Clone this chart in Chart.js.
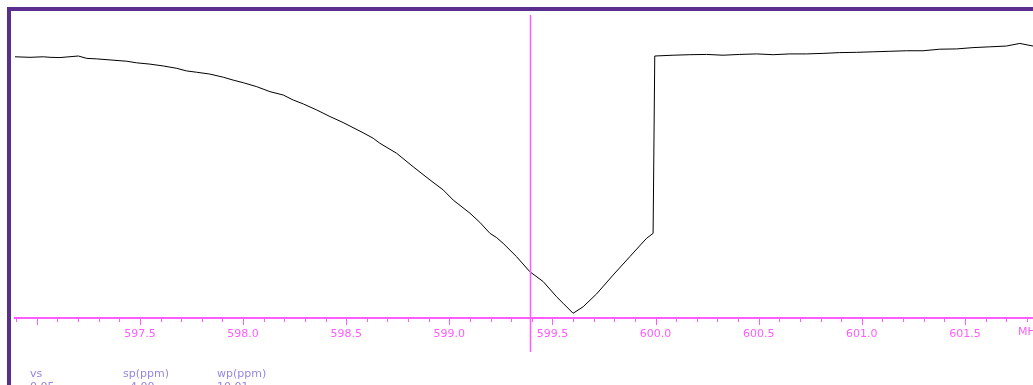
<!DOCTYPE html>
<html>
<head>
<meta charset="utf-8">
<script src="https://cdn.jsdelivr.net/npm/chart.js@4"></script>
<style>
  html, body { margin: 0; padding: 0; background: #fff; overflow: hidden; }
  #wrap { position: relative; width: 1033px; height: 385px; }
  .par { position: absolute; font: 11px "DejaVu Sans", sans-serif; color: #9488e0; white-space: nowrap; }
</style>
</head>
<body>
<div id="wrap">
  <canvas id="spec"></canvas>
  <div class="par" style="left:30px;top:367px">vs</div>
  <div class="par" style="left:123px;top:367px">sp(ppm)</div>
  <div class="par" style="left:217px;top:367px">wp(ppm)</div>
  <div class="par" style="left:30px;top:380px">0.05</div>
  <div class="par" style="left:130px;top:380px">4.00</div>
  <div class="par" style="left:217px;top:380px">10.01</div>
</div>
<script>
(function () {
    "use strict";

    // frequency (MHz) and intensity (arb. units)
    var mhz = [
        596.894, 596.967, 597.031, 597.064, 597.112, 597.201, 597.242, 597.290, 597.355, 597.436,
        597.484, 597.548, 597.613, 597.678, 597.726, 597.775, 597.839, 597.904, 597.952, 598.001,
        598.066, 598.130, 598.195, 598.243, 598.292, 598.357, 598.421, 598.485, 598.582, 598.631,
        598.663, 598.744, 598.825, 598.906, 598.970, 599.019, 599.100, 599.148, 599.197, 599.229,
        599.261, 599.326, 599.390, 599.455, 599.520, 599.552, 599.600, 599.649, 599.714, 599.794,
        599.875, 599.956, 599.988, 599.996, 600.085, 600.166, 600.247, 600.327, 600.408, 600.489,
        600.570, 600.651, 600.732, 600.812, 600.893, 600.974, 601.055, 601.136, 601.216, 601.297,
        601.378, 601.459, 601.539, 601.620, 601.701, 601.766, 601.830
    ];
    var intensity = [
        99.7, 99.5, 99.7, 99.5, 99.4, 100.0, 99.1, 98.9, 98.5, 98.0,
        97.4, 96.9, 96.2, 95.3, 94.3, 93.8, 93.1, 91.9, 90.8, 89.8,
        88.3, 86.4, 85.1, 83.2, 81.7, 79.4, 76.9, 74.6, 70.7, 68.6,
        66.7, 62.9, 57.7, 52.7, 48.9, 45.0, 40.0, 36.5, 32.3, 30.7,
        28.5, 23.4, 17.7, 13.9, 8.1, 5.6, 1.8, 4.3, 9.2, 16.4,
        23.4, 30.4, 32.3, 100.0, 100.3, 100.5, 100.6, 100.3, 100.6, 100.8,
        100.5, 100.8, 100.8, 101.0, 101.3, 101.4, 101.6, 101.8, 102.0, 102.0,
        102.6, 102.7, 103.2, 103.5, 103.8, 104.8, 103.8
    ];
    var tickLabels = ['597.5', '598.0', '598.5', '599.0', '599.5', '600.0', '600.5', '601.0', '601.5'];
    var unitLabel = 'MHz';
    var cursorMHz = 599.39;

    var MAGENTA = '#ff5cff';

    var points = mhz.map(function (v, i) { return { x: v, y: intensity[i] }; });

    var specPlugin = {
        id: 'spec',
        beforeDraw: function (chart) {
            var ctx = chart.ctx;
            ctx.save();
            ctx.fillStyle = '#5b2d8e';
            ctx.fillRect(7, 7, chart.width - 7, 4);
            ctx.fillRect(7, 7, 4, chart.height - 7);
            ctx.restore();
        },
        afterDraw: function (chart) {
            var ctx = chart.ctx;
            var xs = chart.scales.x;
            var area = chart.chartArea;
            ctx.save();
            // tick marks: long every 0.5, short every 0.1
            ctx.strokeStyle = MAGENTA;
            ctx.lineWidth = 1;
            xs.ticks.forEach(function (t) {
                var tenths = Math.round(t.value * 10);
                if (Math.abs(t.value * 10 - tenths) > 0.01) return;
                var px = Math.round(xs.getPixelForValue(t.value)) + 0.5;
                var len = (tenths % 5 === 0) ? 7 : 4;
                ctx.beginPath();
                ctx.moveTo(px, area.bottom);
                ctx.lineTo(px, area.bottom + len);
                ctx.stroke();
            });
            // cursor
            var cx = Math.round(xs.getPixelForValue(cursorMHz)) + 0.5;
            ctx.lineWidth = 1.5;
            ctx.beginPath();
            ctx.moveTo(cx, area.top);
            ctx.lineTo(cx, area.bottom + 34);
            ctx.stroke();
            // unit
            ctx.fillStyle = MAGENTA;
            ctx.font = '11px "DejaVu Sans", sans-serif';
            ctx.textBaseline = 'middle';
            ctx.textAlign = 'left';
            ctx.fillText(unitLabel, area.right - 15, area.bottom + 14);
            ctx.restore();
        }
    };

    new Chart(document.getElementById('spec'), {
        type: 'line',
        data: {
            datasets: [{
                data: points,
                borderColor: '#000',
                borderWidth: 1,
                pointRadius: 0,
                tension: 0,
                fill: false
            }]
        },
        options: {
            responsive: true,
            maintainAspectRatio: false,
            animation: false,
            events: [],
            layout: { padding: { left: 15, right: 0, top: 15, bottom: 0 } },
            scales: {
                x: {
                    type: 'linear',
                    min: 596.894,
                    max: 601.83,
                    afterFit: function (scale) { scale.height = 67; },
                    border: { display: true, color: MAGENTA, width: 2 },
                    grid: { display: true, drawOnChartArea: false, drawTicks: true, tickLength: 7, tickColor: 'rgba(0,0,0,0)' },
                    ticks: {
                        stepSize: 0.1,
                        includeBounds: false,
                        autoSkip: false,
                        maxRotation: 0,
                        padding: 3,
                        color: MAGENTA,
                        font: { family: '"DejaVu Sans", sans-serif', size: 11 },
                        callback: function (value) {
                            var s = Number(value).toFixed(1);
                            return tickLabels.indexOf(s) >= 0 ? s : '';
                        }
                    }
                },
                y: { display: false, min: 0, max: 115.65 }
            },
            plugins: {
                legend: { display: false },
                tooltip: { enabled: false }
            }
        },
        plugins: [specPlugin]
    });
})();
</script>
</body>
</html>
